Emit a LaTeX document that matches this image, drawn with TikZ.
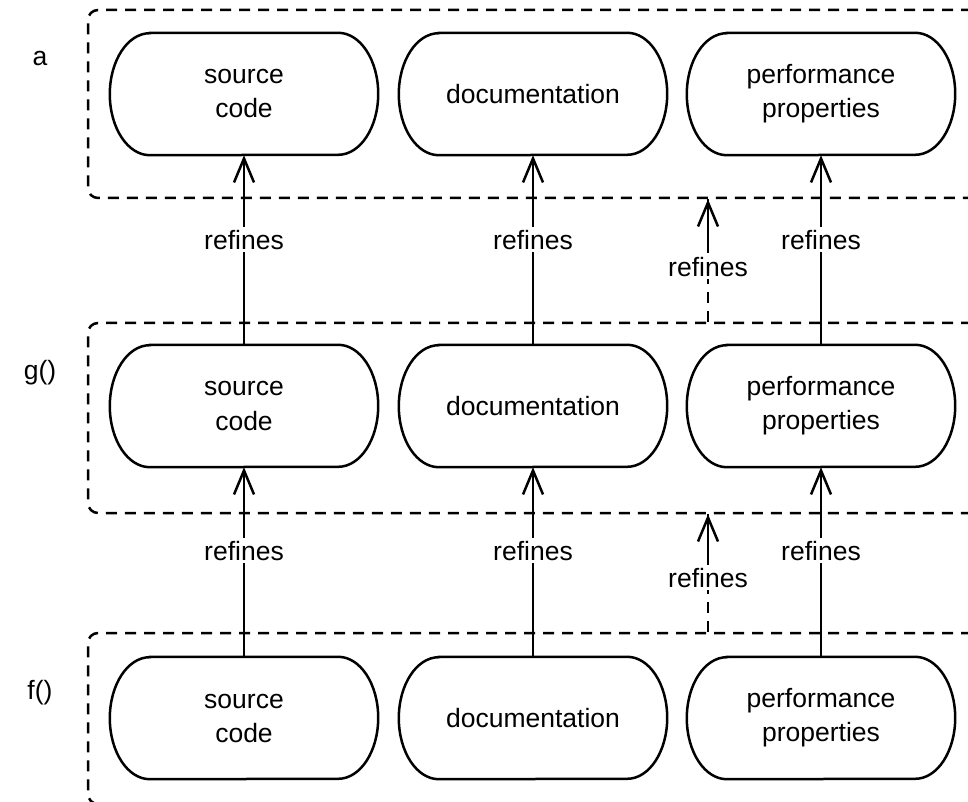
\documentclass[tikz,border=0pt]{standalone}
\usepackage{fontspec}
\setmainfont{Liberation Sans}
\usetikzlibrary{arrows.meta,calc}

% a node whose outline is a rectangle with elliptic left and right ends
\newcommand\capsule[4]{%
  \node[captext] (#1) at (#2,#3) {#4};
  \draw[capline] ([xshift=40]#1.north west) -- ([xshift=-40]#1.north east)
    arc[start angle=90, end angle=-90, x radius=40, y radius=61]
    -- ([xshift=40]#1.south west)
    arc[start angle=270, end angle=90, x radius=40, y radius=61] -- cycle;
}

\tikzset{
  basefont/.style={font=\fontsize{26.5}{34}\selectfont},
  captext/.style={basefont, align=center, minimum width=268, minimum height=122, inner sep=0pt},
  capline/.style={line width=2.5pt},
  layer/.style={draw, dashed, dash pattern=on 11pt off 8pt, line width=2.5pt, rounded corners=10pt, inner sep=0pt},
  refarrow/.style={line width=2.5pt, -{Straight Barb[length=24pt,width=20pt]}},
  dashline/.style={line width=2.5pt, dash pattern=on 11pt off 8pt},
  lbl/.style={basefont, fill=white, inner sep=3pt},
  side/.style={basefont}
}

\begin{document}
\begin{tikzpicture}[x=1pt,y=1pt]
\useasboundingbox (0,0) rectangle (968,801);
\fill[white] (0,0) rectangle (968,801);

% dashed layers (they run on past the right and bottom edges)
\node[layer, minimum width=932, minimum height=188] (la) at (554,697) {};
\node[layer, minimum width=932, minimum height=190] (lg) at (554,383) {};
\node[layer, minimum width=932, minimum height=171] (lf) at (554,82.5) {};
\coordinate (mid) at (708,400);

% layer names
\node[side] (ta) at (40,742) {a};
\node[side] (tg) at (40,428) {g()};
\node[side] (tf) at (40,108) {f()};

% artefacts of each layer
\capsule{a1}{244}{707}{source\\code}
\capsule{a2}{533}{707}{documentation}
\capsule{a3}{821}{707}{performance\\properties}
\capsule{g1}{244}{395}{source\\code}
\capsule{g2}{533}{395}{documentation}
\capsule{g3}{821}{395}{performance\\properties}
\capsule{f1}{244}{83}{source\\code}
\capsule{f2}{533}{83}{documentation}
\capsule{f3}{821}{83}{performance\\properties}

% refinement between artefacts
\foreach \i in {1,2,3} {
  \draw[refarrow] (g\i.north) -- node[lbl, pos=0.555] {refines} (a\i.south);
  \draw[refarrow] (f\i.north) -- node[lbl, pos=0.56] {refines} (g\i.south);
}

% refinement between layers: dashed below the label, solid shaft to the tip
\draw[dashline] (lg.north -| mid) -- node[lbl, pos=0.45] (r1) {refines} (la.south -| mid);
\draw[refarrow] (r1.north -| mid) -- (la.south -| mid);
\draw[dashline] (lf.north -| mid) -- node[lbl, pos=0.46] (r2) {refines} (lg.south -| mid);
\draw[refarrow] (r2.north -| mid) -- (lg.south -| mid);
\end{tikzpicture}
\end{document}
